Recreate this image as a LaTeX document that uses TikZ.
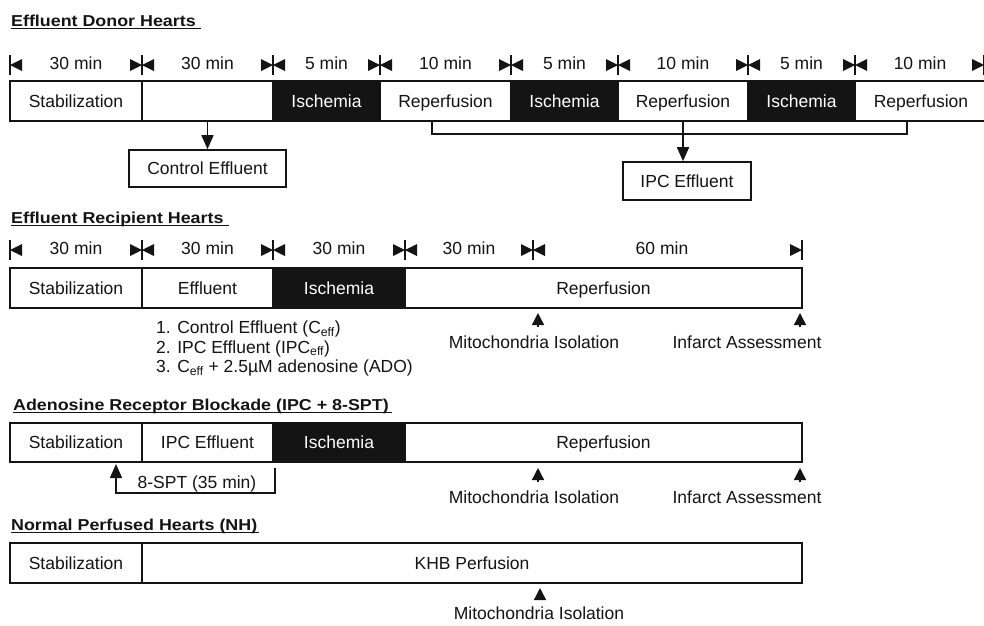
\documentclass[tikz,border=0pt]{standalone}
\usepackage{fontspec}
\usepackage{graphicx}
\setmainfont{Liberation Sans}
\usetikzlibrary{arrows.meta}
\definecolor{blk}{HTML}{141414}
\newcommand\fs{\fontsize{17.5}{20}\selectfont}
\newcommand\hs{\fontsize{15.8}{18}\selectfont\bfseries}
\tikzset{
  seg/.style={draw=blk, line width=1.6pt, minimum height=40pt, inner sep=0pt, font=\fs, text=blk, text depth=0pt},
  isch/.style={seg, fill=blk, text=white},
  lbl/.style={font=\fs, text=blk, inner sep=1pt, text depth=0pt},
  lst/.style={font=\fs, text=blk, inner sep=0pt, anchor=base west},
  head/.style={font=\hs, text=blk, inner sep=0pt, anchor=base west},
  conn/.style={draw=blk, line width=1.5pt, -{Triangle[width=12pt,length=14pt]}},
  conn2/.style={draw=blk, line width=1.4pt, -{Triangle[width=12pt,length=12pt]}},
  brk/.style={draw=blk, line width=1.5pt},
  tickln/.style={draw=blk, line width=1.2pt},
  uline/.style={draw=blk, line width=1.4pt}
}
\newcommand\tkL[2]{\fill[blk] (#1-12,#2-6) -- (#1-12,#2+6) -- (#1,#2) -- cycle;}
\newcommand\tkR[2]{\fill[blk] (#1+12,#2-6) -- (#1+12,#2+6) -- (#1,#2) -- cycle;}
\newcommand\tkV[2]{\draw[tickln] (#1,#2-10) -- (#1,#2+10);}
\newcommand\tkB[2]{\tkL{#1}{#2}\tkR{#1}{#2}\tkV{#1}{#2}}
\begin{document}
\begin{tikzpicture}[x=1pt,y=-1pt]
\useasboundingbox (0,0) rectangle (984,625);
\fill[white] (0,0) rectangle (984,625);

% ---------- Section 1 ----------
\node[head] (h1) at (11,26.5) {\scalebox{1.13}[1]{Effluent Donor Hearts}};
\draw[uline] ([yshift=-2pt]h1.base west) -- ([yshift=-2pt,xshift=5pt]h1.base east);

\tkR{10}{65}\tkV{10}{65}
\tkB{142}{65}\tkB{273}{65}\tkB{380}{65}\tkB{511}{65}\tkB{618}{65}\tkB{748}{65}\tkB{855}{65}
\tkL{984}{65}\tkV{984}{65}
\node[lbl] (t11) at (76,63) {30 min};
\node[lbl] (t12) at (207.5,63) {30 min};
\node[lbl] (t13) at (326.5,63) {5 min};
\node[lbl] (t14) at (445.5,63) {10 min};
\node[lbl] (t15) at (564.5,63) {5 min};
\node[lbl] (t16) at (683,63) {10 min};
\node[lbl] (t17) at (801.5,63) {5 min};
\node[lbl] (t18) at (920,63) {10 min};

\node[seg, minimum width=132pt] (a1) at (76,101) {Stabilization};
\node[seg, minimum width=131pt] (a2) at (207.5,101) {};
\node[isch, minimum width=107pt] (a3) at (326.5,101) {Ischemia};
\node[seg, minimum width=131pt] (a4) at (445.5,101) {Reperfusion};
\node[isch, minimum width=107pt] (a5) at (564.5,101) {Ischemia};
\node[seg, minimum width=130pt] (a6) at (683,101) {Reperfusion};
\node[isch, minimum width=107pt] (a7) at (801.5,101) {Ischemia};
\node[seg, minimum width=132pt] (a8) at (921,101) {Reperfusion};

\node[seg, minimum width=157pt, minimum height=37pt] (ce) at (207.5,168.5) {Control Effluent};
\draw[conn] (a2.south) -- (ce.north);

\node[seg, minimum width=128pt, minimum height=38pt] (ipc) at (687,181) {IPC Effluent};
\coordinate (bl) at (432,121);
\coordinate (br) at (907,121);
\coordinate (blc) at (432,134);
\coordinate (brc) at (907,134);
\draw[brk] (bl) -- (blc) -- (brc) -- (br);
\draw[conn] (a6.south) -- (a6.south |- ipc.north);

% ---------- Section 2 ----------
\node[head] (h2) at (11,223.5) {\scalebox{1.13}[1]{Effluent Recipient Hearts}};
\draw[uline] ([yshift=-2pt]h2.base west) -- ([yshift=-2pt,xshift=5pt]h2.base east);

\tkR{10}{250}\tkV{10}{250}
\tkB{142}{250}\tkB{273}{250}\tkB{405}{250}\tkB{533}{250}
\tkL{802}{250}\tkV{802}{250}
\node[lbl] (t21) at (76,248) {30 min};
\node[lbl] (t22) at (207.5,248) {30 min};
\node[lbl] (t23) at (339,248) {30 min};
\node[lbl] (t24) at (469,248) {30 min};
\node[lbl] (t25) at (662,248) {60 min};

\node[seg, minimum width=132pt] (b1) at (76,288) {Stabilization};
\node[seg, minimum width=131pt] (b2) at (207.5,288) {Effluent};
\node[isch, minimum width=132pt] (b3) at (339,288) {Ischemia};
\node[seg, minimum width=397pt] (b4) at (603.5,288) {Reperfusion};

\node[lst] (l1) at (156,333.5) {1. Control Effluent (C\textsubscript{eff})};
\node[lst] (l2) at (156,353) {2. IPC Effluent (IPC\textsubscript{eff})};
\node[lst] (l3) at (156,372.5) {3. C\textsubscript{eff} + 2.5µM adenosine (ADO)};

\coordinate (m2t) at (538,313);
\node[lbl] (m2) at (534,342) {Mitochondria Isolation};
\draw[conn2] ([yshift=7pt]m2.north -| m2t) -- (m2t);
\coordinate (i2t) at (800,313);
\node[lbl] (i2) at (747,342) {Infarct Assessment};
\draw[conn2] ([yshift=7pt]i2.north -| i2t) -- (i2t);

% ---------- Section 3 ----------
\node[head] (h3) at (13,410.5) {\scalebox{1.13}[1]{Adenosine Receptor Blockade (IPC + 8-SPT)}};
\draw[uline] ([yshift=-2pt]h3.base west) -- ([yshift=-2pt,xshift=3pt]h3.base east);

\node[seg, minimum width=132pt, minimum height=39pt] (c1) at (76,442.5) {Stabilization};
\node[seg, minimum width=131pt, minimum height=39pt] (c2) at (207.5,442.5) {IPC Effluent};
\node[isch, minimum width=132pt, minimum height=39pt] (c3) at (339,442.5) {Ischemia};
\node[seg, minimum width=397pt, minimum height=39pt] (c4) at (603.5,442.5) {Reperfusion};

\node[lbl] (spt) at (197,482) {8-SPT (35 min)};
\coordinate (sa) at (275,468);
\coordinate (sac) at (275,493);
\coordinate (sbc) at (116,493);
\coordinate (sb) at (116,464);
\draw[conn] (sa) -- (sac) -- (sbc) -- (sb);

\coordinate (m3t) at (538,468);
\node[lbl] (m3) at (534,497) {Mitochondria Isolation};
\draw[conn2] ([yshift=7pt]m3.north -| m3t) -- (m3t);
\coordinate (i3t) at (800,468);
\node[lbl] (i3) at (747,497) {Infarct Assessment};
\draw[conn2] ([yshift=7pt]i3.north -| i3t) -- (i3t);

% ---------- Section 4 ----------
\node[head] (h4) at (11,530.5) {\scalebox{1.13}[1]{Normal Perfused Hearts (NH)}};
\draw[uline] ([yshift=-2pt]h4.base west) -- ([yshift=-2pt,xshift=2pt]h4.base east);

\node[seg, minimum width=132pt] (d1) at (76,563) {Stabilization};
\node[seg, minimum width=660pt] (d2) at (472,563) {KHB Perfusion};

\coordinate (m4t) at (540,588);
\node[lbl] (m4) at (539,613) {Mitochondria Isolation};
\draw[conn2] ([yshift=6pt]m4.north -| m4t) -- (m4t);
\end{tikzpicture}
\end{document}
